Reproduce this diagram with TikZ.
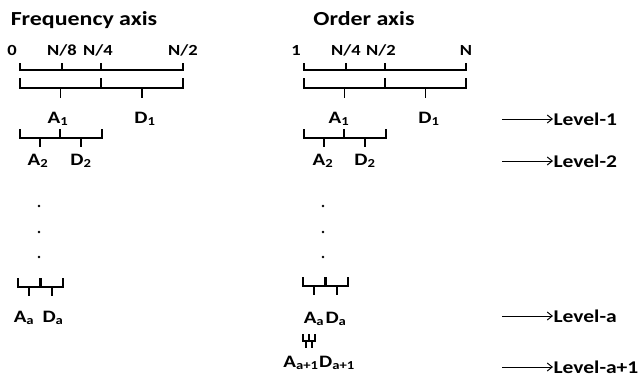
\documentclass[tikz,border=0pt]{standalone}
\usepackage{fontspec}
\setmainfont{Carlito}[FakeStretch=1.2]
\usepackage{tikz}
\usetikzlibrary{arrows.meta,positioning,calc}

% bracket: left end, right end, height of line, tick length
\newcommand{\splitbrkt}[4]{%
  \draw (#1,#3-#4) -- (#1,#3) -- (#2,#3) -- (#2,#3-#4);
  \draw ({(#1+#2)/2},#3) -- ++(0,#4);
}

\begin{document}
\begin{tikzpicture}[x=1bp,y=-1bp,line width=1.2bp,
  every node/.style={font=\bfseries,inner sep=0pt},
  title/.style={font=\fontsize{20}{22}\selectfont\bfseries,anchor=base},
  ticklbl/.style={font=\fontsize{15.5}{17}\selectfont\bfseries,anchor=base},
  coef/.style={font=\fontsize{17.5}{20}\selectfont\bfseries,anchor=base},
  lvl/.style={font=\fontsize{18}{21}\selectfont\bfseries,anchor=west},
  lvlarrow/.style={-{Straight Barb[length=5bp,width=8bp]},line width=1bp}]
\useasboundingbox (0,0) rectangle (638,381);

% frequency axis
\node[title] (ftitle) at (84,25) {Frequency axis};
\node[ticklbl] (f0) at (12,55) {0};
\node[ticklbl] (f8) at (62,55) {N/8};
\node[ticklbl] (f4) at (98,55) {N/4};
\node[ticklbl] (f2) at (183,55) {N/2};
\draw (20,63) -- (20,70) -- (183,70) -- (183,63);
\draw (62,70) -- (62,63);
\draw (101,70) -- (101,63);
\splitbrkt{20}{101}{88}{10}
\splitbrkt{101}{183}{88}{10}
\node[coef] (fA1) at (58,123) {A\textsubscript{1}};
\node[coef] (fD1) at (145,123) {D\textsubscript{1}};
\splitbrkt{20}{60}{138}{9}
\splitbrkt{60}{102}{138}{9}
\node[coef] (fA2) at (38,165) {A\textsubscript{2}};
\node[coef] (fD2) at (81,165) {D\textsubscript{2}};
\foreach \y in {206,232,257}
  \fill (39,\y) circle (1.4bp);
\splitbrkt{18}{40}{287}{9}
\splitbrkt{41}{63}{287}{9}
\node[coef] (fAa) at (24,322) {A\textsubscript{a}};
\node[coef] (fDa) at (53,322) {D\textsubscript{a}};

% order axis
\node[title] (otitle) at (364,25) {Order axis};
\node[ticklbl] (o1) at (296,55) {1};
\node[ticklbl] (o4) at (346,55) {N/4};
\node[ticklbl] (o2) at (381,55) {N/2};
\node[ticklbl] (oN) at (466,55) {N};
\draw (304,63) -- (304,70) -- (466,70) -- (466,63);
\draw (346,70) -- (346,63);
\draw (385,70) -- (385,63);
\splitbrkt{304}{385}{88}{10}
\splitbrkt{385}{466}{88}{10}
\node[coef] (oA1) at (339,123) {A\textsubscript{1}};
\node[coef] (oD1) at (429,123) {D\textsubscript{1}};
\splitbrkt{304}{344}{138}{9}
\splitbrkt{344}{386}{138}{9}
\node[coef] (oA2) at (323,165) {A\textsubscript{2}};
\node[coef] (oD2) at (365,165) {D\textsubscript{2}};
\foreach \y in {206,232,257}
  \fill (323,\y) circle (1.4bp);
\splitbrkt{303}{325}{286}{9}
\splitbrkt{326}{348}{286}{9}
\node[coef] (oAa) at (314,323) {A\textsubscript{a}};
\node[coef] (oDa) at (336,323) {D\textsubscript{a}};
\splitbrkt{303}{309}{341}{7}
\splitbrkt{309}{315}{341}{7}
\node[coef] (oAb) at (301,367) {A\textsubscript{a+1}};
\node[coef] (oDb) at (337,367) {D\textsubscript{a+1}};

% levels
\node[lvl] (lvl1) at (553,119) {Level-1};
\node[lvl] (lvl2) at (553,161) {Level-2};
\node[lvl] (lvla) at (553,316) {Level-a};
\node[lvl] (lvlb) at (553,367) {Level-a+1};
\coordinate (s1) at (502,119);
\coordinate (s2) at (502,161);
\coordinate (sa) at (502,316);
\coordinate (sb) at (502,367);
\draw[lvlarrow] (s1) -- (lvl1.west);
\draw[lvlarrow] (s2) -- (lvl2.west);
\draw[lvlarrow] (sa) -- (lvla.west);
\draw[lvlarrow] (sb) -- (lvlb.west);
\end{tikzpicture}
\end{document}
